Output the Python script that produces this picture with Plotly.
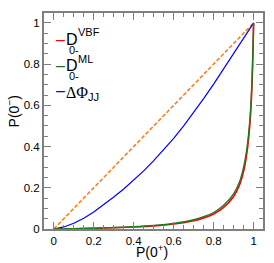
import plotly.graph_objects as go

# Diagonal (random guess)
diag_x = [0.0, 1.0]
diag_y = [0.0, 1.0]

# Delta Phi_JJ ROC
dphi_x = [0.0, 0.05, 0.1, 0.15, 0.2, 0.25, 0.3, 0.35, 0.4, 0.45, 0.5, 0.55, 0.6,
          0.65, 0.7, 0.75, 0.8, 0.85, 0.9, 0.95, 1.0]
dphi_y = [0.0, 0.010, 0.028, 0.052, 0.083, 0.117, 0.155, 0.194, 0.236, 0.282, 0.332,
          0.384, 0.440, 0.500, 0.565, 0.633, 0.703, 0.776, 0.850, 0.924, 1.0]

# D_0-^ML and D_0-^VBF ROC
roc_x = [0.0, 0.1, 0.2, 0.3, 0.4, 0.5, 0.6, 0.7, 0.75, 0.8, 0.85, 0.9, 0.93,
         0.95, 0.965, 0.975, 0.985, 0.993, 1.0]
ml_y = [0.0, 0.002, 0.004, 0.007, 0.011, 0.017, 0.027, 0.045, 0.06, 0.08, 0.115,
        0.17, 0.23, 0.30, 0.38, 0.46, 0.58, 0.75, 1.0]
vbf_y = [0.0, 0.001, 0.003, 0.006, 0.010, 0.015, 0.024, 0.040, 0.054, 0.073, 0.105,
         0.158, 0.215, 0.28, 0.36, 0.44, 0.56, 0.73, 1.0]

xticks = [0, 0.2, 0.4, 0.6, 0.8, 1]
xticklabels = ["0", "0.2", "0.4", "0.6", "0.8", "1"]

RED = "#ff0000"
GREEN = "#1e7a1e"
BLUE = "#0000ff"
ORANGE = "#ff7f1e"
FRAME = "#7f7f7f"

fig = go.Figure()
fig.add_trace(go.Scatter(x=diag_x, y=diag_y, mode="lines",
                         line=dict(color=ORANGE, width=1.6, dash="4px,2px"), showlegend=False))
fig.add_trace(go.Scatter(x=dphi_x, y=dphi_y, mode="lines",
                         line=dict(color=BLUE, width=1.2), name="ΔΦJJ", showlegend=False))
fig.add_trace(go.Scatter(x=roc_x, y=vbf_y, mode="lines", line_shape="spline",
                         line=dict(color=RED, width=1.6), name="D0-VBF", showlegend=False))
fig.add_trace(go.Scatter(x=roc_x, y=ml_y, mode="lines", line_shape="spline",
                         line=dict(color=GREEN, width=1.4), name="D0-ML", showlegend=False))

axis_common = dict(
    showline=True, linecolor=FRAME, linewidth=2, mirror="allticks",
    ticks="inside", ticklen=7, tickwidth=1, tickcolor=FRAME,
    showgrid=False, zeroline=False, automargin=False,
    tickfont=dict(family="Liberation Sans, Arial", size=11.5, color="black"),
    minor=dict(ticks="inside", ticklen=4, tickcolor=FRAME, dtick=0.05, showgrid=False),
)

fig.update_xaxes(range=[-0.049, 1.047], tickvals=xticks, ticktext=xticklabels, **axis_common)
fig.update_yaxes(range=[0, 1.048], tickvals=xticks, ticktext=xticklabels, **axis_common)

fnt = dict(family="Liberation Sans, Arial", size=16, color="black")
sfnt = dict(family="Liberation Sans, Arial", size=11, color="black")
tfnt = dict(family="Liberation Sans, Arial", size=14, color="black")


def px(xp):
    return (xp - 43.5) / 219.2


def py(yp):
    return (228.7 - yp) / 215.2


ann = [
    # D0-^VBF
    dict(x=px(54.5), y=py(40), text="–", font=dict(fnt, color=RED), xanchor="left", yanchor="middle"),
    dict(x=px(65), y=py(39.5), text="D", font=fnt, xanchor="left", yanchor="middle"),
    dict(x=px(68), y=py(50), text="0-", font=sfnt, xanchor="left", yanchor="middle"),
    dict(x=px(77), y=py(32), text="VBF", font=sfnt, xanchor="left", yanchor="middle"),
    # D0-^ML
    dict(x=px(54.5), y=py(65.7), text="–", font=dict(fnt, color=GREEN), xanchor="left", yanchor="middle"),
    dict(x=px(65), y=py(66), text="D", font=fnt, xanchor="left", yanchor="middle"),
    dict(x=px(68), y=py(76.5), text="0-", font=sfnt, xanchor="left", yanchor="middle"),
    dict(x=px(77), y=py(59), text="ML", font=sfnt, xanchor="left", yanchor="middle"),
    # Delta Phi_JJ
    dict(x=px(54.5), y=py(91), text="–", font=dict(fnt, color=BLUE), xanchor="left", yanchor="middle"),
    dict(x=px(64.5), y=py(94),
         text="<span style='font-family:Liberation Serif'>ΔΦ</span><sub>JJ</sub>",
         font=fnt, xanchor="left", yanchor="middle"),
    # axis titles
    dict(x=px(152), y=py(251), text="P(0<sup>+</sup>)", font=tfnt,
         xanchor="center", yanchor="middle"),
    dict(x=px(12), y=py(112), text="P(0<sup>−</sup>)", font=tfnt, textangle=-90,
         xanchor="center", yanchor="middle"),
]
for a in ann:
    a.update(xref="paper", yref="paper", showarrow=False, borderpad=0)
fig.update_layout(annotations=ann)

fig.update_layout(
    width=274, height=263,
    margin=dict(l=44, r=11, t=13, b=34),
    paper_bgcolor="white", plot_bgcolor="white",
    font=dict(family="Liberation Sans, Arial"),
)

fig.write_html("out.html", config={"displayModeBar": False},
               post_script="document.body.style.margin='0px';document.body.style.overflow='hidden';")
